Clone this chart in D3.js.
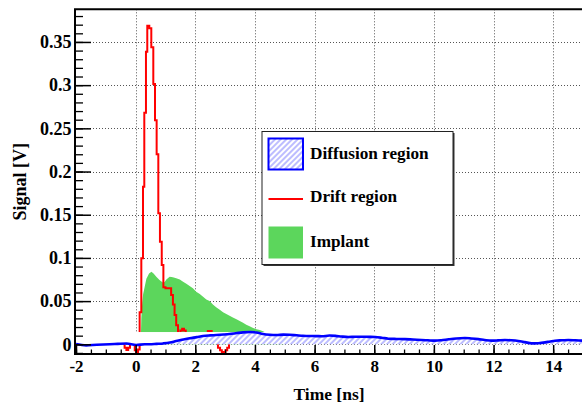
<!DOCTYPE html>
<html>
<head>
<meta charset="utf-8">
<script src="https://cdn.jsdelivr.net/npm/d3@7"></script>
<style>
  html, body { margin: 0; padding: 0; background: #fff; }
  svg { display: block; }
  text { font-family: "Liberation Serif", "Times New Roman", serif; font-weight: bold; fill: #000; }
</style>
</head>
<body>
<svg id="chart" width="582" height="410"></svg>
<script>
// ---- data ----------------------------------------------------------------
// Drift region: histogram bin start times [ns] and contents [V]
const driftT = [-2, -0.37, -0.31, -0.25, -0.19, -0.03, 0.02, 0.08, 0.134, 0.19, 0.246, 0.29,
  0.346, 0.39, 0.458, 0.525, 0.592, 0.648, 0.704, 0.76, 0.815, 0.875, 0.93, 1.0, 1.19, 1.25,
  1.305, 1.36, 1.42, 1.5, 1.56, 1.62, 1.68, 2.42, 2.55, 2.76, 2.83, 2.89, 2.95, 3.01, 3.07,
  3.13, 15];
const driftV = [0.002, -0.004, -0.0065, -0.004, 0.002, -0.007, -0.012, -0.006, 0.037, 0.0996,
  0.1824, 0.268, 0.3387, 0.3689, 0.3658, 0.3438, 0.3013, 0.2593, 0.22, 0.1517, 0.1188, 0.0918,
  0.066, 0.065, 0.057, 0.046, 0.034, 0.022, 0.008, 0.016, 0.018, 0.016, 0.006, 0.0155, 0.004,
  -0.004, -0.007, -0.009, -0.009, -0.007, -0.004, 0.002, 0.002];

// Implant signal [V] versus time [ns]
const implantT = [0.17, 0.19, 0.22, 0.25, 0.3, 0.36, 0.45, 0.53, 0.6, 0.7, 0.8, 0.92, 0.97,
  1.03, 1.14, 1.25, 1.36, 1.48, 1.59, 1.70, 1.81, 1.92, 2.03, 2.15, 2.26, 2.37, 2.48, 2.59,
  2.70, 2.82, 2.93, 3.04, 3.15, 3.26, 3.38, 3.49, 3.60, 3.71, 3.82, 3.94, 4.05, 4.16, 4.27,
  4.38, 4.55, 4.8, 5.0];
const implantV = [0, 0.03, 0.048, 0.058, 0.066, 0.076, 0.082, 0.084, 0.082, 0.078, 0.0744,
  0.0713, 0.072, 0.075, 0.0783, 0.0775, 0.0764, 0.075, 0.0725, 0.070, 0.0675, 0.0648, 0.0609,
  0.0582, 0.055, 0.052, 0.050, 0.046, 0.043, 0.040, 0.037, 0.035, 0.033, 0.031, 0.029, 0.027,
  0.025, 0.0225, 0.021, 0.019, 0.0175, 0.0165, 0.015, 0.0135, 0.010, 0.004, 0];

// Diffusion region signal [V] versus time [ns]
const diffusionT = [-2.0, -1.66, -1.3, -0.87, -0.6, -0.31, 0.02, 0.3, 0.47, 0.7, 0.92, 1.15,
  1.36, 1.6, 1.81, 2.05, 2.26, 2.5, 2.7, 2.95, 3.15, 3.4, 3.6, 3.85, 4.05, 4.27, 4.5, 4.72,
  4.95, 5.16, 5.4, 5.61, 5.85, 6.06, 6.24, 6.5, 6.7, 6.9, 7.13, 7.35, 7.58, 7.8, 8.03, 8.25,
  8.47, 8.75, 9.03, 9.3, 9.59, 9.8, 10.04, 10.25, 10.49, 10.75, 11.04, 11.25, 11.49, 11.7,
  11.94, 12.15, 12.38, 12.6, 12.83, 13.05, 13.28, 13.5, 13.73, 13.9, 14.06, 14.3, 14.51,
  14.75, 15.0];
const diffusionV = [0.0003, -0.0012, -0.0005, 0.0, 0.0005, 0.001, -0.0008, 0.0, 0.0, 0.0005,
  0.001, 0.002, 0.0038, 0.0055, 0.0069, 0.0083, 0.0096, 0.0103, 0.0107, 0.0113, 0.0119, 0.013,
  0.0138, 0.0142, 0.0137, 0.0119, 0.011, 0.0107, 0.0112, 0.011, 0.0104, 0.0099, 0.0096, 0.0095,
  0.0093, 0.0101, 0.0098, 0.009, 0.0084, 0.0087, 0.0088, 0.0086, 0.0084, 0.0076, 0.0065,
  0.0062, 0.006, 0.0055, 0.005, 0.0046, 0.0042, 0.0047, 0.0058, 0.0068, 0.0073, 0.0068, 0.006,
  0.005, 0.0042, 0.0045, 0.005, 0.0046, 0.0038, 0.0025, 0.0011, 0.0013, 0.0022, 0.0033,
  0.0042, 0.0046, 0.005, 0.0046, 0.0042];

// axis ticks
const timeTicks = [-2, 0, 2, 4, 6, 8, 10, 12, 14];
const signalTicks = [0, 0.05, 0.1, 0.15, 0.2, 0.25, 0.3, 0.35];
const legendLabels = ["Diffusion region", "Drift region", "Implant"];

// ---- layout --------------------------------------------------------------
const svg = d3.select("#chart");
const frame = { left: 75, right: 583, top: 9.3, bottom: 354 };

const x = d3.scaleLinear().domain([-2, 15]).range([76, 583]);
const y = d3.scaleLinear().domain([-0.01123, 0.3878]).range([frame.bottom, frame.top]);

const defs = svg.append("defs");
defs.append("clipPath").attr("id", "plotClip")
  .append("rect")
  .attr("x", frame.left).attr("y", frame.top)
  .attr("width", frame.right - frame.left).attr("height", frame.bottom - frame.top);

const hatch = defs.append("pattern")
  .attr("id", "hatch")
  .attr("patternUnits", "userSpaceOnUse")
  .attr("width", 4).attr("height", 4)
  .attr("patternTransform", "rotate(45)");
hatch.append("line")
  .attr("x1", 1).attr("y1", 0).attr("x2", 1).attr("y2", 4)
  .attr("stroke", "#6a6aff").attr("stroke-width", 0.9);

svg.append("rect").attr("width", 582).attr("height", 410).attr("fill", "#fff");

// ---- grid ----------------------------------------------------------------
const grid = svg.append("g").attr("stroke", "#555").attr("stroke-width", 1)
  .attr("stroke-dasharray", "1,2");
grid.selectAll("line.v").data(timeTicks.filter(t => t > -2)).join("line")
  .attr("x1", d => Math.round(x(d)) + 0.5).attr("x2", d => Math.round(x(d)) + 0.5)
  .attr("y1", frame.top).attr("y2", frame.bottom);
grid.selectAll("line.h").data(signalTicks).join("line")
  .attr("y1", d => Math.round(y(d)) + 0.5).attr("y2", d => Math.round(y(d)) + 0.5)
  .attr("x1", frame.left).attr("x2", frame.right);

const plot = svg.append("g").attr("clip-path", "url(#plotClip)");

// ---- implant (filled) ----------------------------------------------------
const implantPts = implantT.map((t, i) => [t, implantV[i]]);
plot.append("path")
  .datum(implantPts)
  .attr("fill", "#5cd65c")
  .attr("d", d3.area().x(d => x(d[0])).y0(y(0)).y1(d => y(d[1])));

// ---- drift region (step histogram) ---------------------------------------
const driftPts = driftT.map((t, i) => [t, driftV[i]]);
plot.append("path")
  .datum(driftPts)
  .attr("fill", "none")
  .attr("stroke", "#ff0000")
  .attr("stroke-width", 2)
  .attr("stroke-linejoin", "miter")
  .attr("d", d3.line().curve(d3.curveStepAfter).x(d => x(d[0])).y(d => y(d[1])));

// ---- diffusion region (hatched area over a blank band up to its maximum) --
const diffPts = diffusionT.map((t, i) => [t, diffusionV[i]]);
const diffMax = d3.max(diffusionV);
plot.append("rect")
  .attr("x", frame.left).attr("width", frame.right - frame.left)
  .attr("y", y(diffMax)).attr("height", y(0) - y(diffMax))
  .attr("fill", "#fff");
plot.append("path")
  .datum(diffPts)
  .attr("fill", "url(#hatch)")
  .attr("d", d3.area().curve(d3.curveMonotoneX).x(d => x(d[0])).y0(y(0)).y1(d => y(d[1])));
plot.append("path")
  .datum(diffPts)
  .attr("fill", "none")
  .attr("stroke", "#0000ff")
  .attr("stroke-width", 2.6)
  .attr("d", d3.line().curve(d3.curveMonotoneX).x(d => x(d[0])).y(d => y(d[1])));

// ---- axes ----------------------------------------------------------------
const fmt = d => d === 0 ? "0" : String(+d.toFixed(2));

const yMinor = d3.range(-1, 39).map(i => i / 100);
svg.append("g").attr("transform", `translate(${frame.left},0)`)
  .call(d3.axisLeft(y).tickValues(yMinor).tickSize(-8).tickFormat(""))
  .call(g => g.select(".domain").remove())
  .call(g => g.selectAll("line").attr("stroke", "#000").attr("stroke-width", 1.3));
svg.append("g").attr("transform", `translate(${frame.left},0)`)
  .call(d3.axisLeft(y).tickValues(signalTicks).tickSize(-16).tickPadding(3.5).tickFormat(fmt))
  .call(g => g.select(".domain").remove())
  .call(g => g.selectAll("line").attr("stroke", "#000").attr("stroke-width", 1.5))
  .call(g => g.selectAll("text")
    .attr("font-family", '"Liberation Serif", serif').attr("font-weight", "bold")
    .attr("font-size", 18).attr("fill", "#000"));

const xMinor = d3.range(-4, 31).map(i => i / 2);
svg.append("g").attr("transform", `translate(0,${frame.bottom})`)
  .call(d3.axisBottom(x).tickValues(xMinor).tickSize(-4.5).tickFormat(""))
  .call(g => g.select(".domain").remove())
  .call(g => g.selectAll("line").attr("stroke", "#000").attr("stroke-width", 1.3));
svg.append("g").attr("transform", `translate(0,${frame.bottom})`)
  .call(d3.axisBottom(x).tickValues(timeTicks).tickSize(-9).tickPadding(6.4).tickFormat(fmt))
  .call(g => g.select(".domain").remove())
  .call(g => g.selectAll("line").attr("stroke", "#000").attr("stroke-width", 1.5))
  .call(g => g.selectAll("text")
    .attr("font-family", '"Liberation Serif", serif').attr("font-weight", "bold")
    .attr("font-size", 17).attr("fill", "#000"));

// frame
svg.append("path")
  .attr("d", `M${frame.right},${frame.top}H${frame.left}V${frame.bottom}H${frame.right}`)
  .attr("fill", "none").attr("stroke", "#000").attr("stroke-width", 2);

// axis titles
svg.append("text")
  .attr("x", (frame.left + frame.right) / 2).attr("y", 400)
  .attr("text-anchor", "middle").attr("font-size", 17.5)
  .text("Time [ns]");
svg.append("text")
  .attr("transform", `translate(25.5,${(frame.top + frame.bottom) / 2}) rotate(-90)`)
  .attr("text-anchor", "middle").attr("font-size", 18)
  .text("Signal [V]");

// ---- legend --------------------------------------------------------------
const lg = svg.append("g");
const box = { x: 262, y: 131.5, w: 191, h: 133 };
lg.append("rect").attr("x", box.x + 1.5).attr("y", box.y + 1.5)
  .attr("width", box.w).attr("height", box.h).attr("fill", "#333");
lg.append("rect").attr("x", box.x).attr("y", box.y)
  .attr("width", box.w).attr("height", box.h)
  .attr("fill", "#fff").attr("stroke", "#222").attr("stroke-width", 1);

const sx = 268.5, sw = 34.5, tx = 310;
lg.append("rect").attr("x", sx).attr("y", 138.5).attr("width", sw).attr("height", 31)
  .attr("fill", "#fff");
lg.append("rect").attr("x", sx).attr("y", 138.5).attr("width", sw).attr("height", 31)
  .attr("fill", "url(#hatch)").attr("stroke", "#0000ff").attr("stroke-width", 2);
lg.append("line").attr("x1", sx).attr("x2", sx + sw).attr("y1", 199).attr("y2", 199)
  .attr("stroke", "#ff0000").attr("stroke-width", 2);
lg.append("rect").attr("x", sx).attr("y", 226.5).attr("width", sw).attr("height", 32)
  .attr("fill", "#5cd65c");

lg.selectAll("text.entry").data(legendLabels).join("text")
  .attr("class", "entry")
  .attr("x", tx).attr("y", (d, i) => [159.3, 202.3, 246.7][i])
  .attr("font-size", 17.2)
  .text(d => d);
</script>
</body>
</html>
